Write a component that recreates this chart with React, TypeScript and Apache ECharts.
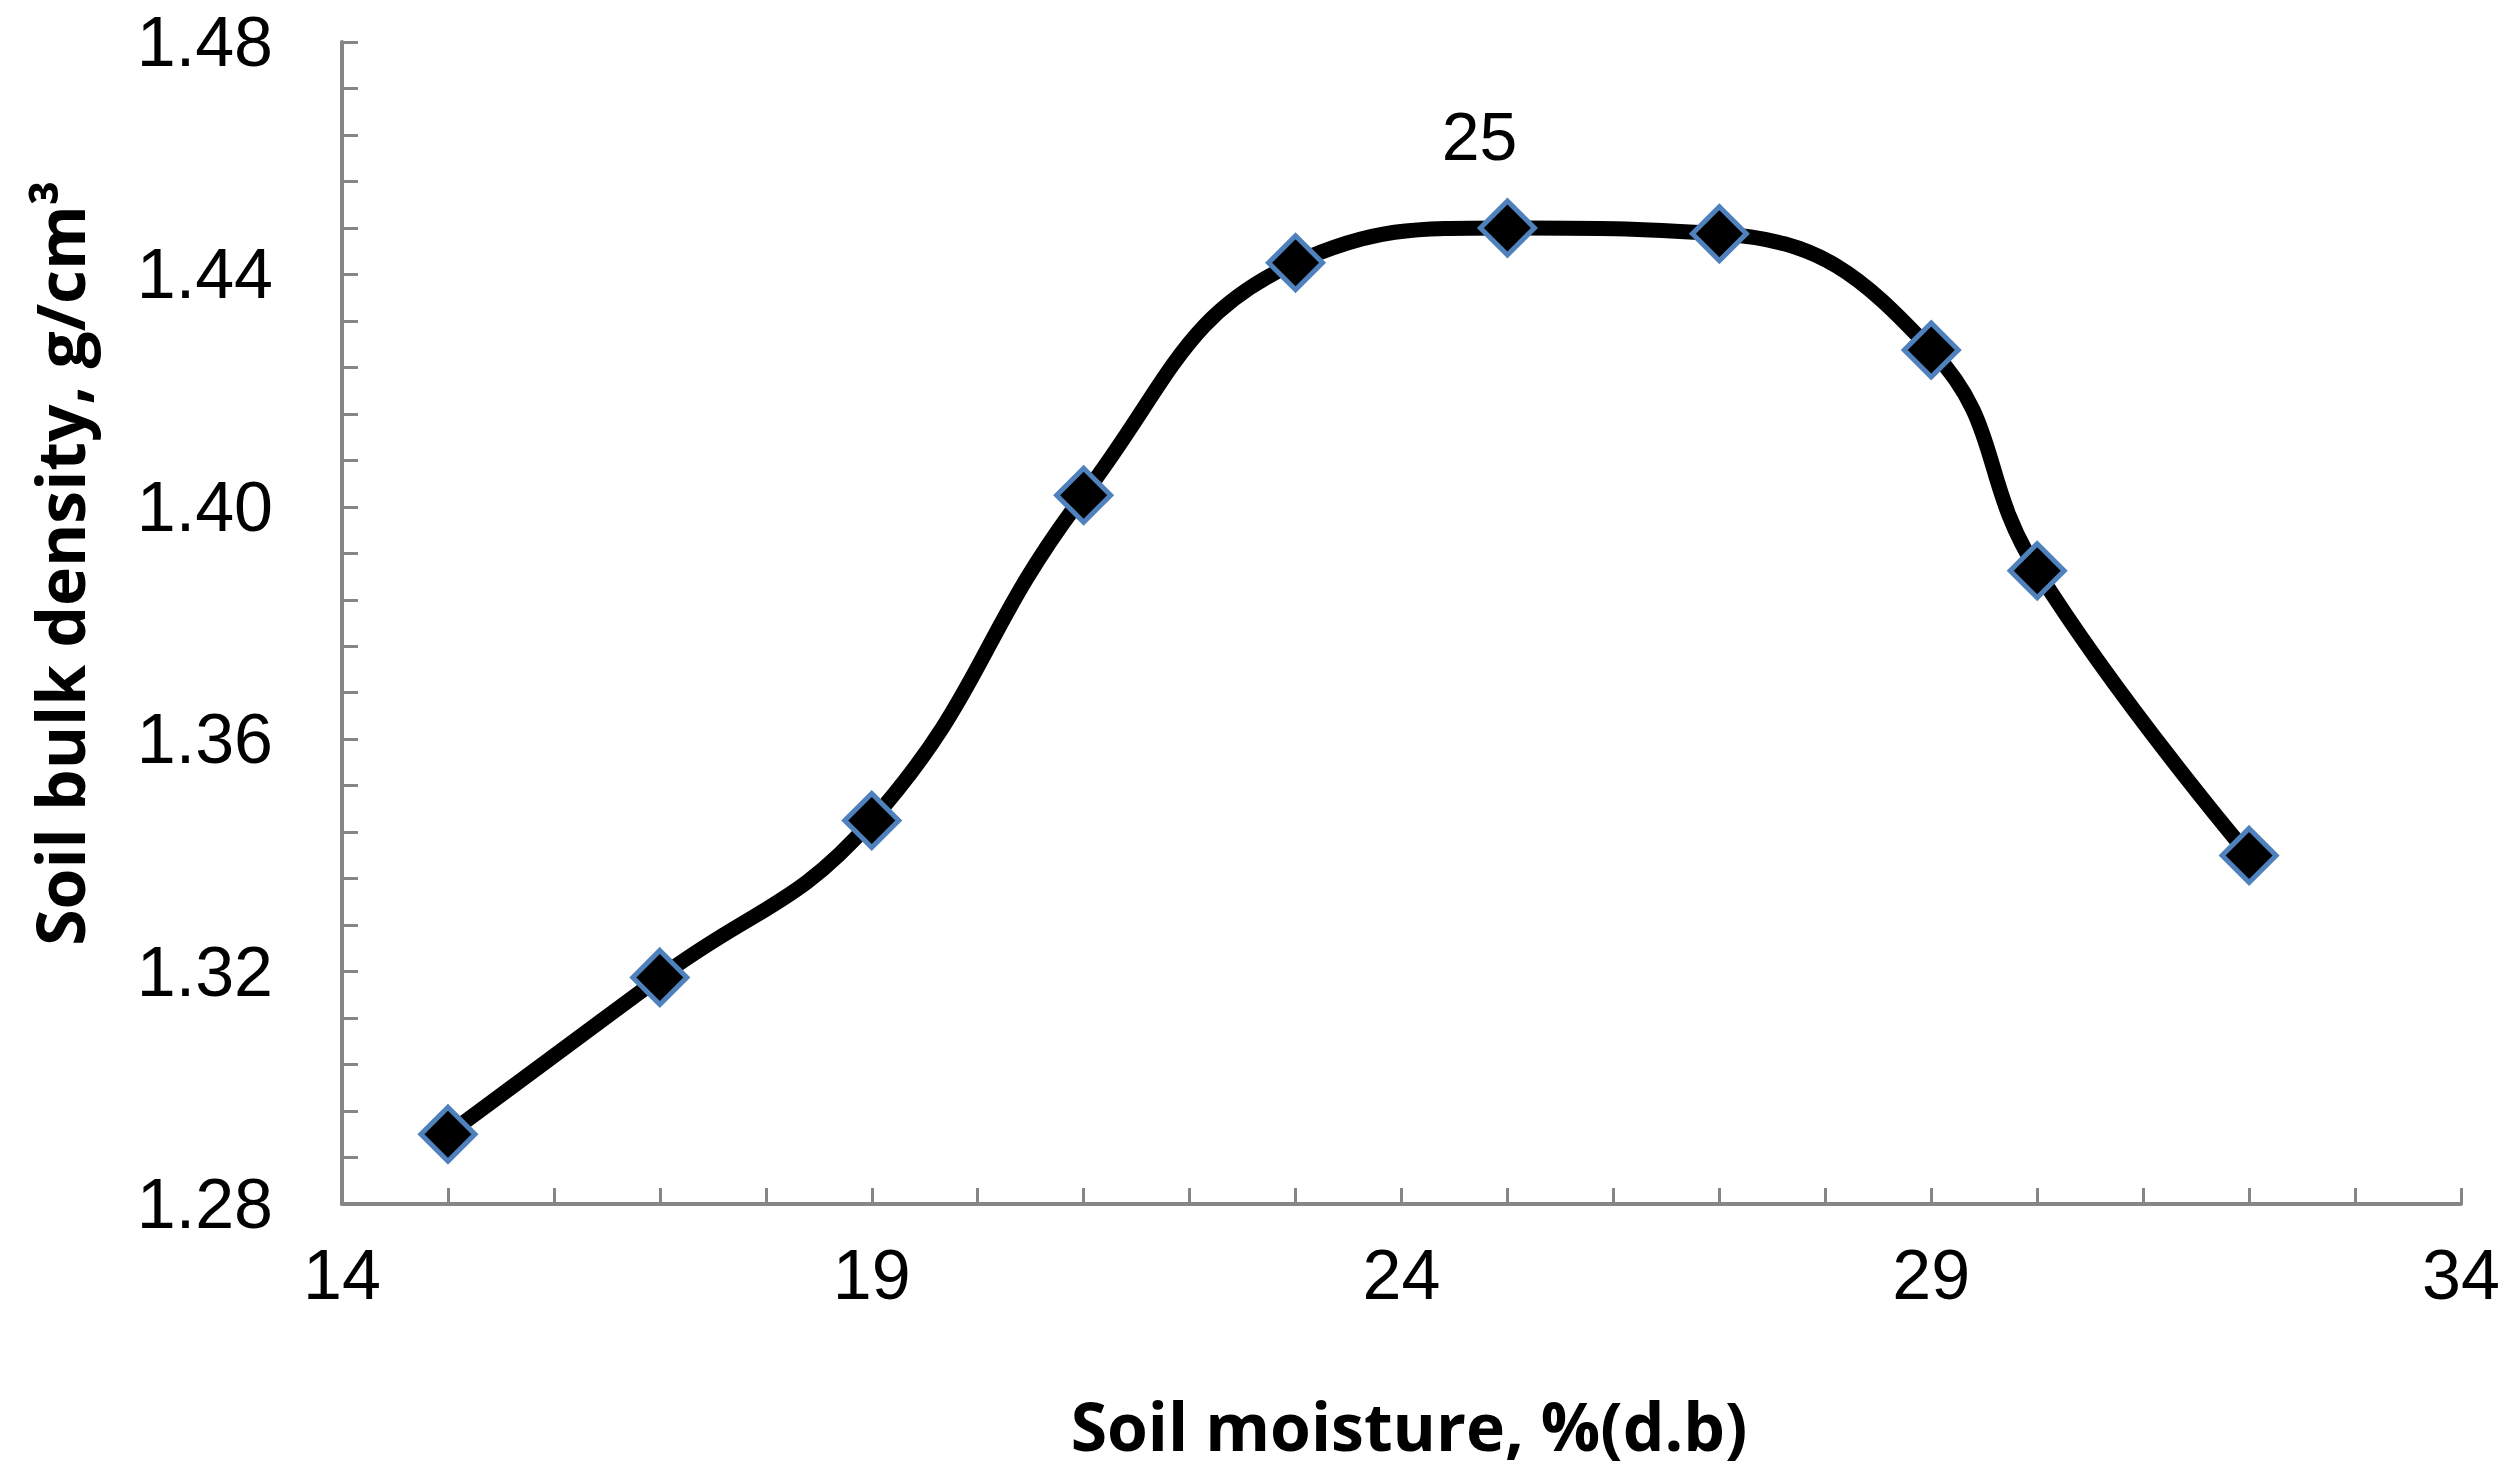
import React, { useEffect, useRef } from "react";
import * as echarts from "echarts";

const moisture = [15, 17, 19, 21, 23, 25, 27, 29, 30, 32];
const bulkDensity = [1.292, 1.319, 1.346, 1.402, 1.442, 1.448, 1.447, 1.427, 1.389, 1.34];
const labelledIndex = 5;
const xTitle = "Soil moisture, %(d.b)";
const yTitle = "Soil bulk density, g/cm³";

const W = 2517;
const H = 1482;
const FONT = "'Liberation Sans', Arial, sans-serif";
const TITLE_FONT = "'Open Sans', 'Noto Sans', sans-serif";

export default function App() {
  const ref = useRef<HTMLDivElement>(null);
  useEffect(() => {
    if (!ref.current) return;
    const chart = echarts.init(ref.current, undefined, { renderer: "svg" });
    const data = moisture.map((x, i) => {
      const item: any = { value: [x, bulkDensity[i]] };
      if (i === labelledIndex) {
        item.label = {
          show: true,
          position: "top",
          distance: 28,
          offset: [-28, 0],
          formatter: (p: any) => String(p.value[0]),
          fontSize: 68,
          fontFamily: FONT,
          color: "#000",
        };
      }
      return item;
    });
    const axisColor = "#868686";
    chart.setOption({
      animation: false,
      backgroundColor: "#fff",
      grid: { left: 342, top: 42, right: 56, bottom: 278, containLabel: false },
      xAxis: {
        type: "value",
        min: 14,
        max: 34,
        interval: 5,
        axisLine: { show: true, lineStyle: { color: axisColor, width: 4 } },
        axisTick: { show: true, inside: true, length: 16, lineStyle: { color: axisColor, width: 3 } },
        minorTick: { show: true, splitNumber: 5, length: 16, lineStyle: { color: axisColor, width: 3 } },
        splitLine: { show: false },
        axisLabel: { fontSize: 70, fontFamily: FONT, color: "#000", margin: 36 },
      },
      yAxis: {
        type: "value",
        min: 1.28,
        max: 1.48,
        interval: 0.04,
        axisLine: { show: true, lineStyle: { color: axisColor, width: 4 } },
        axisTick: { show: true, inside: true, length: 16, lineStyle: { color: axisColor, width: 3 } },
        minorTick: { show: true, splitNumber: 5, length: 16, lineStyle: { color: axisColor, width: 3 } },
        splitLine: { show: false },
        axisLabel: {
          fontSize: 70,
          lineHeight: 70,
          fontFamily: FONT,
          color: "#000",
          margin: 69,
          formatter: (v: number) => v.toFixed(2),
        },
      },
      graphic: [
        {
          type: "text",
          x: 1409,
          y: 1425,
          style: {
            text: xTitle,
            font: `bold 66px ${TITLE_FONT}`,
            fill: "#000",
            textAlign: "center",
            textVerticalAlign: "middle",
          },
        },
        {
          type: "text",
          x: 59,
          y: 563,
          rotation: Math.PI / 2,
          style: {
            text: yTitle,
            font: `bold 66px ${TITLE_FONT}`,
            fill: "#000",
            textAlign: "center",
            textVerticalAlign: "middle",
          },
        },
      ],
      series: [
        {
          type: "line",
          data,
          smooth: 0.45,
          symbol: "diamond",
          symbolSize: 54,
          lineStyle: { color: "#000", width: 15 },
          itemStyle: { color: "#000", borderColor: "#4F81BD", borderWidth: 5 },
          label: { show: false },
        },
      ],
    });
    return () => chart.dispose();
  }, []);
  return (
    <div
      ref={ref}
      style={{ position: "absolute", left: 0, top: 0, width: W, height: H, background: "#fff" }}
    />
  );
}
